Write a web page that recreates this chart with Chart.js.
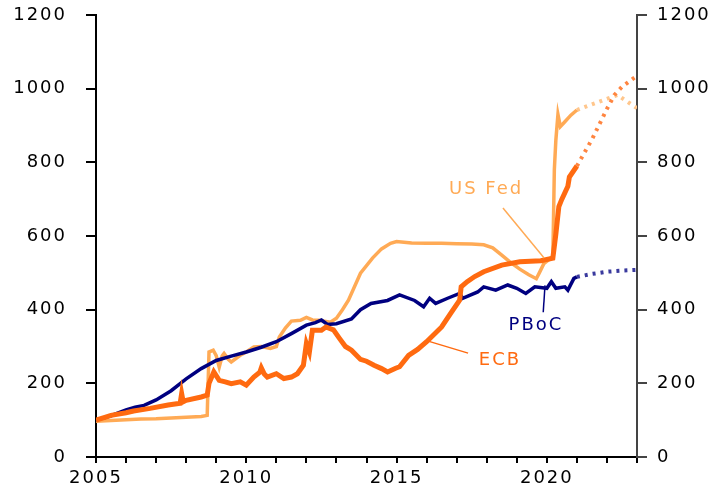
<!DOCTYPE html>
<html>
<head>
<meta charset="utf-8">
<script src="https://cdn.jsdelivr.net/npm/chart.js@4.4.1/dist/chart.umd.min.js"></script>
<style>
  body { margin: 0; background: #fff; }
  #wrap { width: 715px; height: 484px; }
</style>
</head>
<body>
<div id="wrap"><canvas id="graphCanvas" width="715" height="484"></canvas></div>
<script>
// balance sheets, index 2005 = 100
var fedYears = [2005.0, 2005.5, 2006.0, 2006.5, 2007.0, 2007.5, 2008.0, 2008.5, 2008.7, 2008.76, 2008.9, 2009.0, 2009.1, 2009.2, 2009.26, 2009.4, 2009.5, 2009.8, 2010.0, 2010.25, 2010.5, 2010.8, 2011.0, 2011.1, 2011.3, 2011.5, 2011.8, 2012.0, 2012.2, 2012.4, 2012.8, 2013.0, 2013.2, 2013.4, 2013.8, 2014.2, 2014.5, 2014.8, 2015.0, 2015.5, 2016.0, 2016.5, 2017.0, 2017.5, 2017.9, 2018.2, 2018.5, 2018.8, 2019.1, 2019.4, 2019.65, 2019.75, 2019.9, 2020.1, 2020.2, 2020.25, 2020.3, 2020.37, 2020.45, 2020.6, 2020.8, 2021.0];
var fedValues = [97, 99, 101, 103, 104, 106, 108, 110, 113, 285, 290, 275, 244, 275, 281, 265, 258, 276, 285, 299, 300, 295, 300, 326, 350, 369, 371, 379, 372, 371, 366, 377, 400, 426, 499, 540, 565, 580, 585, 581, 580, 580, 579, 578, 576, 568, 548, 528, 510, 495, 484, 500, 525, 538, 545, 780, 860, 930, 897, 910, 928, 942];
var fedProjYears = [2021.0, 2022.35, 2023.0];
var fedProjValues = [942, 983, 947];

var ecbYears = [2005.0, 2005.5, 2006.0, 2006.25, 2006.8, 2007.4, 2007.8, 2007.85, 2007.9, 2008.0, 2008.5, 2008.7, 2008.76, 2008.92, 2009.1, 2009.3, 2009.5, 2009.8, 2010.0, 2010.25, 2010.45, 2010.5, 2010.6, 2010.7, 2011.0, 2011.25, 2011.5, 2011.7, 2011.9, 2012.0, 2012.1, 2012.2, 2012.5, 2012.65, 2012.9, 2013.1, 2013.3, 2013.5, 2013.8, 2014.0, 2014.25, 2014.5, 2014.7, 2014.97, 2015.1, 2015.4, 2015.7, 2016.0, 2016.5, 2016.8, 2017.1, 2017.15, 2017.35, 2017.6, 2017.9, 2018.5, 2019.1, 2019.8, 2020.2, 2020.3, 2020.4, 2020.5, 2020.7, 2020.75, 2021.0];
var ecbValues = [100, 113, 120, 125, 132, 141, 146, 172, 150, 154, 163, 168, 200, 231, 208, 204, 199, 204, 195, 217, 230, 242, 225, 217, 226, 213, 217, 226, 249, 308, 285, 344, 344, 353, 345, 322, 300, 290, 265, 260, 249, 240, 231, 241, 245, 276, 292, 313, 353, 390, 426, 462, 476, 490, 503, 521, 530, 533, 540, 605, 680, 700, 735, 760, 790];
var ecbProjYears = [2021.0, 2021.5, 2022.0, 2022.25, 2022.5, 2022.75, 2023.0];
var ecbProjValues = [790, 862, 945, 983, 1005, 1020, 1035];

var pbocYears = [2005.0, 2005.5, 2006.0, 2006.3, 2006.6, 2007.0, 2007.5, 2008.0, 2008.5, 2009.0, 2009.5, 2010.0, 2010.5, 2011.0, 2011.5, 2012.0, 2012.3, 2012.5, 2012.7, 2013.0, 2013.5, 2013.8, 2014.15, 2014.7, 2015.1, 2015.6, 2015.9, 2016.1, 2016.3, 2016.7, 2017.1, 2017.2, 2017.7, 2017.9, 2018.3, 2018.7, 2019.0, 2019.3, 2019.6, 2020.0, 2020.15, 2020.3, 2020.6, 2020.7, 2020.9, 2021.0];
var pbocValues = [100, 112, 128, 135, 140, 155, 180, 212, 240, 262, 274, 285, 298, 313, 335, 358, 365, 372, 360, 362, 375, 400, 417, 425, 440, 425, 408, 431, 417, 431, 444, 431, 448, 462, 453, 467, 458, 444, 462, 458, 476, 458, 462, 453, 485, 489];
var pbocProjYears = [2021.0, 2021.5, 2022.0, 2022.5, 2023.0];
var pbocProjValues = [489, 497, 503, 506, 508];

var yTicks = [0, 200, 400, 600, 800, 1000, 1200];
var xLabelYears = [2005, 2010, 2015, 2020];

// labels with leader lines, in data units
var labels = [
  { text: 'US Fed', color: '#FFAA55', x: 2017.98, y: 727, from: [2018.54, 676], to: [2019.91, 540] },
  { text: 'PBoC', color: '#000080', x: 2019.64, y: 358, from: [2019.88, 393], to: [2019.94, 466] },
  { text: 'ECB', color: '#FF6A10', x: 2018.44, y: 263, from: [2017.38, 282], to: [2016.08, 314] }
];

function pts(xs, ys) {
  var out = [];
  for (var i = 0; i < xs.length; i++) out.push({ x: xs[i], y: ys[i] });
  return out;
}

var FONT = 'DejaVu Sans';
var SPACING = '2px';

// the original text is set wide, so spread the letters a bit
var spacingPlugin = {
  id: 'wideText',
  beforeUpdate: function (chart) { chart.ctx.letterSpacing = SPACING; },
  beforeDraw: function (chart) { chart.ctx.letterSpacing = SPACING; }
};

var labelPlugin = {
  id: 'lineLabels',
  afterDatasetsDraw: function (chart) {
    var ctx = chart.ctx;
    var xs = chart.scales.x, ys = chart.scales.y;
    ctx.save();
    labels.forEach(function (l) {
      ctx.strokeStyle = l.color;
      ctx.lineWidth = 1.5;
      ctx.beginPath();
      ctx.moveTo(xs.getPixelForValue(l.from[0]), ys.getPixelForValue(l.from[1]));
      ctx.lineTo(xs.getPixelForValue(l.to[0]), ys.getPixelForValue(l.to[1]));
      ctx.stroke();
      ctx.fillStyle = l.color;
      ctx.font = '18px "' + FONT + '"';
      ctx.letterSpacing = SPACING;
      ctx.textAlign = 'center';
      ctx.textBaseline = 'middle';
      ctx.fillText(l.text, xs.getPixelForValue(l.x), ys.getPixelForValue(l.y));
    });
    ctx.restore();
  }
};

var yAxis = function (pos, width, border) {
  return {
    type: 'linear',
    position: pos,
    min: 0,
    max: 1200,
    afterFit: function (s) {
      s.width = width;
      // label padding would otherwise push the plot down from the top
      s.paddingTop = 0;
      s.paddingBottom = 0;
    },
    afterBuildTicks: function (s) { s.ticks = yTicks.map(function (v) { return { value: v }; }); },
    border: { display: true, color: border, width: 2 },
    grid: { drawOnChartArea: false, drawTicks: true, tickLength: 10, color: border, lineWidth: 2 },
    ticks: {
      color: '#000',
      padding: pos === 'left' ? 19 : 10,
      font: { family: FONT, size: 18 },
      callback: function (v) { return String(v); }
    }
  };
};

new Chart(document.getElementById('graphCanvas'), {
  type: 'line',
  data: {
    datasets: [
      { data: pts(fedYears, fedValues), borderColor: '#FFAA55', borderWidth: 3.5, order: 5 },
      { data: pts(fedProjYears, fedProjValues), borderColor: '#FFC68C', borderWidth: 4, borderDash: [3, 5], order: 6 },
      { data: pts(pbocYears, pbocValues), borderColor: '#000080', borderWidth: 3.5, order: 3 },
      { data: pts(pbocProjYears, pbocProjValues), borderColor: '#3A3A9E', borderWidth: 4, borderDash: [3, 5], order: 4 },
      { data: pts(ecbYears, ecbValues), borderColor: '#FF6A10', borderWidth: 5, order: 1 },
      { data: pts(ecbProjYears, ecbProjValues), borderColor: '#FF8540', borderWidth: 4, borderDash: [3, 5], order: 2 }
    ]
  },
  options: {
    responsive: false,
    animation: false,
    layout: { padding: { top: 15 } },
    elements: { point: { radius: 0 }, line: { tension: 0, borderCapStyle: 'butt' } },
    plugins: { legend: { display: false }, tooltip: { enabled: false } },
    scales: {
      x: {
        type: 'linear',
        min: 2005,
        max: 2023,
        afterFit: function (s) { s.height = 27; },
        border: { display: true, color: '#000', width: 2 },
        grid: { drawOnChartArea: false, drawTicks: true, tickLength: 6, color: '#000', lineWidth: 2 },
        ticks: {
          stepSize: 1,
          autoSkip: false,
          maxRotation: 0,
          padding: 5,
          color: '#000',
          font: { family: FONT, size: 18 },
          callback: function (v) { return xLabelYears.indexOf(v) >= 0 ? String(v) : ''; }
        }
      },
      y: yAxis('left', 96, '#000'),
      y2: yAxis('right', 78, '#444')
    }
  },
  plugins: [spacingPlugin, labelPlugin]
});
</script>
</body>
</html>
